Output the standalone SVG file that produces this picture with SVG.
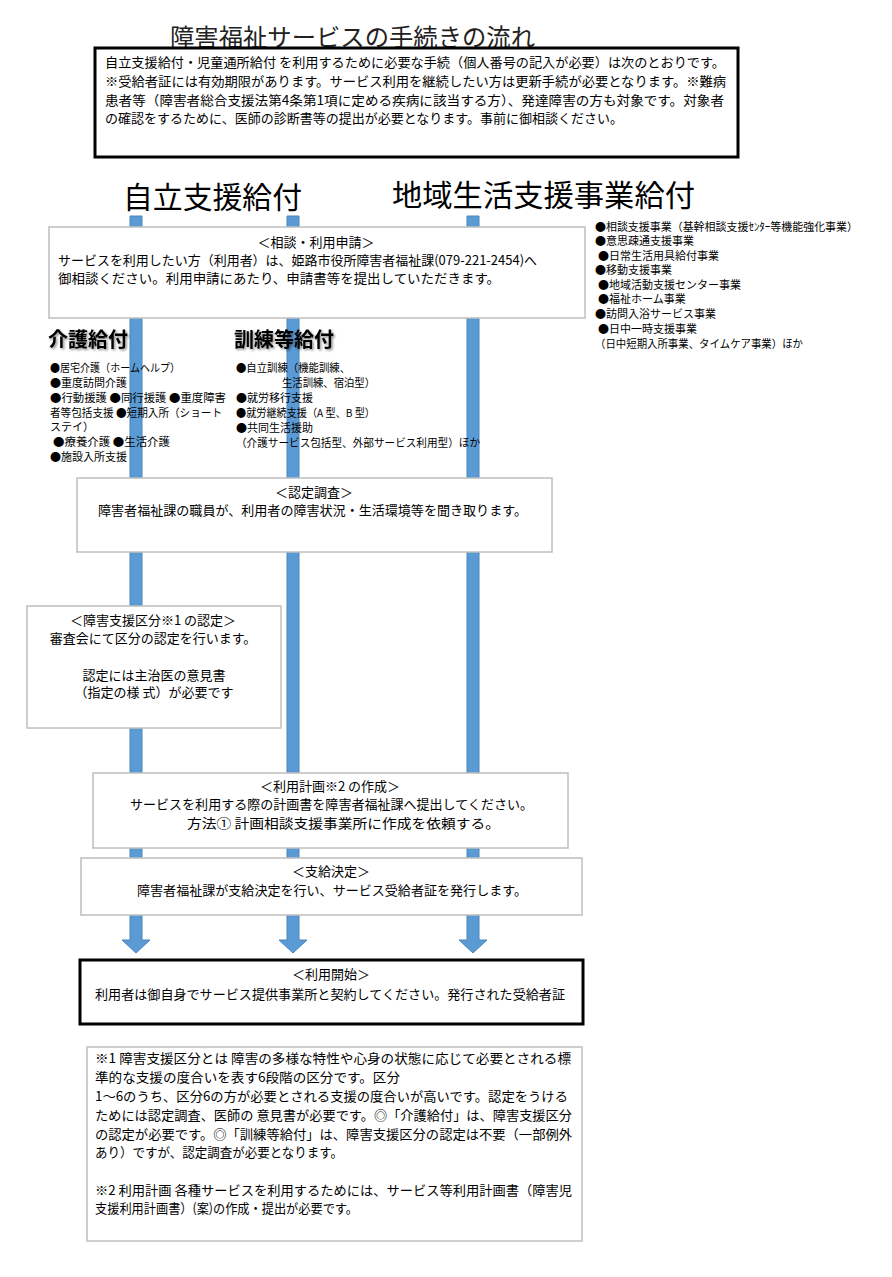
<svg xmlns="http://www.w3.org/2000/svg" width="892" height="1277" viewBox="0 0 892 1277">
<style>
text{font-family:"Noto Sans CJK JP","Noto Sans",sans-serif;fill:#000}
.t13{font-size:13px}
.t11{font-size:11px}
.c{text-anchor:middle}
.gbox{fill:#fff;stroke:#bfbfbf;stroke-width:1.5}
.kbox{fill:#fff;stroke:#000;stroke-width:3}
.bar{fill:#5b9bd5;stroke:#4a84bd;stroke-width:1}
.h1{font-size:30px}
.h2{font-size:20px;font-weight:bold;filter:url(#sh)}
</style>
<defs>
<filter id="sh" x="-10%" y="-30%" width="130%" height="170%">
<feDropShadow dx="1.5" dy="1.5" stdDeviation="1" flood-color="#000" flood-opacity="0.45"/>
</filter>
</defs>
<rect width="892" height="1277" fill="#fff"/>

<g id="title">
<text x="170" y="46" style="font-size:24px;fill:#222" textLength="365" lengthAdjust="spacingAndGlyphs">障害福祉サービスの手続きの流れ</text>
</g>

<g id="intro">
<rect x="95" y="48" width="643" height="109" class="kbox" stroke-width="2.5"/>
<text class="t13" x="105" y="67" textLength="620" lengthAdjust="spacingAndGlyphs">自立支援給付・児童通所給付 を利用するために必要な手続（個人番号の記入が必要）は次のとおりです。</text>
<text class="t13" x="105" y="86" textLength="621" lengthAdjust="spacingAndGlyphs">※受給者証には有効期限があります。サービス利用を継続したい方は更新手続が必要となります。※難病</text>
<text class="t13" x="105" y="105" textLength="619" lengthAdjust="spacingAndGlyphs">患者等（障害者総合支援法第4条第1項に定める疾病に該当する方）、発達障害の方も対象です。対象者</text>
<text class="t13" x="105" y="123" textLength="518" lengthAdjust="spacingAndGlyphs">の確認をするために、医師の診断書等の提出が必要となります。事前に御相談ください。</text>
</g>

<g id="connectors">
<path class="bar" d="M130,216 H142 V940 H150 L136,953 L122,940 H130 Z"/>
<path class="bar" d="M287,216 H299 V940 H307 L293,953 L279,940 H287 Z"/>
<path class="bar" d="M467,216 H479 V940 H487 L473,953 L459,940 H467 Z"/>
</g>

<g id="heading-jiritsu">
<text class="h1" x="123" y="208" textLength="179" lengthAdjust="spacingAndGlyphs">自立支援給付</text>
</g>
<g id="heading-chiiki">
<text class="h1" x="392" y="206" textLength="303" lengthAdjust="spacingAndGlyphs">地域生活支援事業給付</text>
</g>

<g id="soudan">
<rect x="49" y="227" width="536" height="91" class="gbox"/>
<text class="t13 c" x="316" y="247">＜相談・利用申請＞</text>
<text class="t13" x="58" y="265" textLength="479" lengthAdjust="spacingAndGlyphs">サービスを利用したい方（利用者）は、姫路市役所障害者福祉課(079-221-2454)へ</text>
<text class="t13" x="58" y="283" textLength="442" lengthAdjust="spacingAndGlyphs">御相談ください。利用申請にあたり、申請書等を提出していただきます。</text>
</g>

<g id="chiiki-list">
<text class="t11" x="595" y="231" textLength="263" lengthAdjust="spacingAndGlyphs">●相談支援事業（基幹相談支援ｾﾝﾀｰ等機能強化事業）</text>
<text class="t11" x="595" y="245">●意思疎通支援事業</text>
<text class="t11" x="598" y="260">●日常生活用具給付事業</text>
<text class="t11" x="595" y="274">●移動支援事業</text>
<text class="t11" x="598" y="289">●地域活動支援センター事業</text>
<text class="t11" x="598" y="303">●福祉ホーム事業</text>
<text class="t11" x="595" y="318">●訪問入浴サービス事業</text>
<text class="t11" x="598" y="333">●日中一時支援事業</text>
<text class="t11" x="595" y="348" textLength="208" lengthAdjust="spacingAndGlyphs">（日中短期入所事業、タイムケア事業）ほか</text>
</g>

<g id="kaigo">
<text class="h2" x="48" y="347">介護給付</text>
<text class="t11" x="50" y="372" textLength="130" lengthAdjust="spacingAndGlyphs">●居宅介護（ホームヘルプ）</text>
<text class="t11" x="50" y="387">●重度訪問介護</text>
<text class="t11" x="50" y="402" textLength="176" lengthAdjust="spacingAndGlyphs">●行動援護 ●同行援護 ●重度障害</text>
<text class="t11" x="50" y="417" textLength="172" lengthAdjust="spacingAndGlyphs">者等包括支援 ●短期入所（ショート</text>
<text class="t11" x="50" y="431">ステイ）</text>
<text class="t11" x="53" y="446" textLength="117" lengthAdjust="spacingAndGlyphs">●療養介護 ●生活介護</text>
<text class="t11" x="50" y="461">●施設入所支援</text>
</g>

<g id="kunren">
<text class="h2" x="234" y="347">訓練等給付</text>
<text class="t11" x="236" y="372" textLength="114" lengthAdjust="spacingAndGlyphs">●自立訓練（機能訓練、</text>
<text class="t11" x="282" y="387" textLength="93" lengthAdjust="spacingAndGlyphs">生活訓練、宿泊型）</text>
<text class="t11" x="236" y="402">●就労移行支援</text>
<text class="t11" x="236" y="417" textLength="139" lengthAdjust="spacingAndGlyphs">●就労継続支援（A 型、B 型）</text>
<text class="t11" x="236" y="432">●共同生活援助</text>
<text class="t11" x="236" y="447" textLength="244" lengthAdjust="spacingAndGlyphs">（介護サービス包括型、外部サービス利用型）ほか</text>
</g>

<g id="nintei-chousa">
<rect x="77" y="478" width="475" height="74" class="gbox"/>
<text class="t13 c" x="314" y="497">＜認定調査＞</text>
<text class="t13" x="98" y="515" textLength="429" lengthAdjust="spacingAndGlyphs">障害者福祉課の職員が、利用者の障害状況・生活環境等を聞き取ります。</text>
</g>

<g id="kubun">
<rect x="27" y="606" width="254" height="122" class="gbox"/>
<text class="t13 c" x="153" y="625">＜障害支援区分※1 の認定＞</text>
<text class="t13 c" x="153" y="643">審査会にて区分の認定を行います。</text>
<text class="t13 c" x="154" y="680">認定には主治医の意見書</text>
<text class="t13 c" x="154" y="697">（指定の様 式）が必要です</text>
</g>

<g id="keikaku">
<rect x="93" y="773" width="475" height="75" class="gbox"/>
<text class="t13 c" x="330" y="791">＜利用計画※2 の作成＞</text>
<text class="t13" x="130" y="809" textLength="403" lengthAdjust="spacingAndGlyphs">サービスを利用する際の計画書を障害者福祉課へ提出してください。</text>
<text class="t13" x="187" y="828" textLength="313" lengthAdjust="spacingAndGlyphs">方法① 計画相談支援事業所に作成を依頼する。</text>
</g>

<g id="shikyu">
<rect x="81" y="858" width="501" height="57" class="gbox"/>
<text class="t13 c" x="331" y="876">＜支給決定＞</text>
<text class="t13" x="137" y="895" textLength="390" lengthAdjust="spacingAndGlyphs">障害者福祉課が支給決定を行い、サービス受給者証を発行します。</text>
</g>

<g id="kaishi">
<rect x="80" y="960" width="503" height="64" class="kbox"/>
<text class="t13 c" x="331" y="979">＜利用開始＞</text>
<text class="t13" x="95" y="999" textLength="470" lengthAdjust="spacingAndGlyphs">利用者は御自身でサービス提供事業所と契約してください。発行された受給者証</text>
</g>

<g id="notes">
<rect x="87" y="1047" width="495" height="194" class="gbox"/>
<text class="t13" x="95" y="1063" textLength="476" lengthAdjust="spacingAndGlyphs">※1 障害支援区分とは 障害の多様な特性や心身の状態に応じて必要とされる標</text>
<text class="t13" x="95" y="1082" textLength="305" lengthAdjust="spacingAndGlyphs">準的な支援の度合いを表す6段階の区分です。区分</text>
<text class="t13" x="95" y="1101" textLength="473" lengthAdjust="spacingAndGlyphs">1～6のうち、区分6の方が必要とされる支援の度合いが高いです。認定をうける</text>
<text class="t13" x="95" y="1120" textLength="477" lengthAdjust="spacingAndGlyphs">ためには認定調査、医師の 意見書が必要です。◎「介護給付」は、障害支援区分</text>
<text class="t13" x="95" y="1139" textLength="477" lengthAdjust="spacingAndGlyphs">の認定が必要です。◎「訓練等給付」は、障害支援区分の認定は不要（一部例外</text>
<text class="t13" x="95" y="1157" textLength="248" lengthAdjust="spacingAndGlyphs">あり）ですが、認定調査が必要となります。</text>
<text class="t13" x="95" y="1195" textLength="477" lengthAdjust="spacingAndGlyphs">※2 利用計画 各種サービスを利用するためには、サービス等利用計画書（障害児</text>
<text class="t13" x="95" y="1213" textLength="263" lengthAdjust="spacingAndGlyphs">支援利用計画書）(案)の作成・提出が必要です。</text>
</g>
</svg>
